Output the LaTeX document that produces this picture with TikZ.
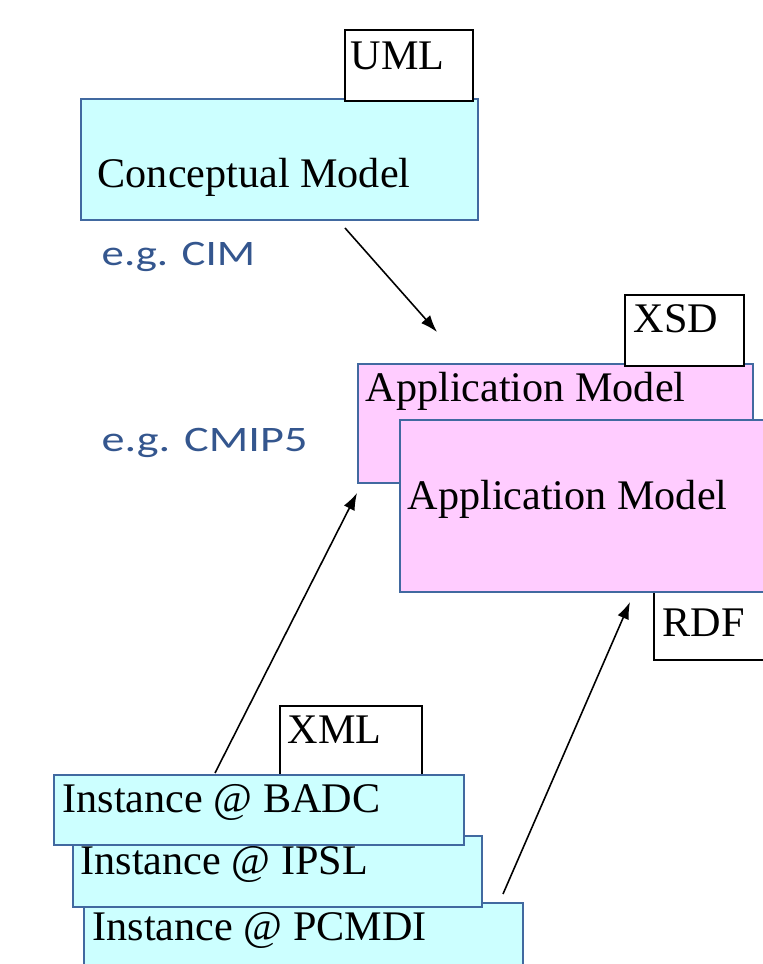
\documentclass[tikz,border=0pt]{standalone}
\usepackage{fontspec}
\setmainfont{Liberation Serif}
\newfontfamily\egfont{Carlito}
\usepackage{graphicx}
\usepackage{tikz}
\usetikzlibrary{arrows.meta}
\definecolor{boxedge}{RGB}{65,105,160}
\definecolor{cyanfill}{RGB}{204,255,255}
\definecolor{pinkfill}{RGB}{255,204,255}
\definecolor{egblue}{RGB}{52,86,142}

\begin{document}
\begin{tikzpicture}[
  cyanbox/.style={draw=boxedge, line width=0.5pt, fill=cyanfill, anchor=north west, inner sep=0pt},
  pinkbox/.style={draw=boxedge, line width=0.5pt, fill=pinkfill, anchor=north west, inner sep=0pt},
  tagbox/.style={draw=black, line width=0.5pt, fill=white, anchor=north west, inner sep=0pt},
  boxtext/.style={anchor=base west, inner sep=0pt, font=\fontsize{12}{14}\selectfont},
  egtext/.style={anchor=base west, inner sep=0pt, text=egblue, font=\egfont\fontsize{10.2}{12}\selectfont},
  link/.style={-{Latex[length=0.17cm,width=0.12cm]}, line width=0.45pt}]
\useasboundingbox (0,0) rectangle (7.63,9.64);
\clip (0,0) rectangle (7.63,9.64);
\node [cyanbox, minimum width=3.97cm, minimum height=1.21cm] (concept) at (0.80,8.66) {};
\node [tagbox, minimum width=1.28cm, minimum height=0.71cm] (uml) at (3.44,9.35) {};
\node [boxtext] (umltxt) at (3.50,8.94) {UML};
\node [boxtext] (concepttxt) at (0.97,7.76) {Conceptual Model};
\node [egtext] (egcim) at (1.01,6.98) {\scalebox{1.25}[1]{e.g. CIM}};
\node [egtext] (egcmip) at (1.01,5.12) {\scalebox{1.29}[1]{e.g. CMIP5}};
\node [pinkbox, minimum width=3.95cm, minimum height=1.19cm] (appone) at (3.57,6.01) {};
\node [tagbox, minimum width=1.19cm, minimum height=0.71cm] (xsd) at (6.24,6.70) {};
\node [boxtext] (xsdtxt) at (6.33,6.31) {XSD};
\node [boxtext] (apponetxt) at (3.65,5.62) {Application Model};
\node [tagbox, minimum width=1.40cm, minimum height=0.70cm] (rdf) at (6.53,3.75) {};
\node [boxtext] (rdftxt) at (6.62,3.27) {RDF};
\node [pinkbox, minimum width=4.00cm, minimum height=1.72cm] (apptwo) at (3.99,5.45) {};
\node [boxtext] (apptwotxt) at (4.07,4.54) {Application Model};
\node [tagbox, minimum width=1.42cm, minimum height=0.69cm] (xml) at (2.79,2.59) {};
\node [boxtext] (xmltxt) at (2.87,2.20) {XML};
\node [cyanbox, minimum width=4.39cm, minimum height=1.00cm] (pcmdi) at (0.83,0.62) {};
\node [boxtext] (pcmditxt) at (0.92,0.24) {Instance @ PCMDI};
\node [cyanbox, minimum width=4.09cm, minimum height=0.71cm] (ipsl) at (0.72,1.29) {};
\node [boxtext] (ipsltxt) at (0.80,0.89) {Instance @ IPSL};
\node [cyanbox, minimum width=4.10cm, minimum height=0.70cm] (badc) at (0.53,1.90) {};
\node [boxtext] (badctxt) at (0.62,1.51) {Instance @ BADC};
\coordinate (cimtail) at (3.45,7.36);
\coordinate (cimhead) at (4.37,6.32);
\coordinate (badctail) at (2.15,1.91);
\coordinate (badchead) at (3.57,4.71);
\coordinate (rdftail) at (5.03,0.70);
\coordinate (rdfhead) at (6.30,3.62);
\draw [link] (cimtail) -- (cimhead);
\draw [link] (badctail) -- (badchead);
\draw [link] (rdftail) -- (rdfhead);
\end{tikzpicture}
\end{document}
